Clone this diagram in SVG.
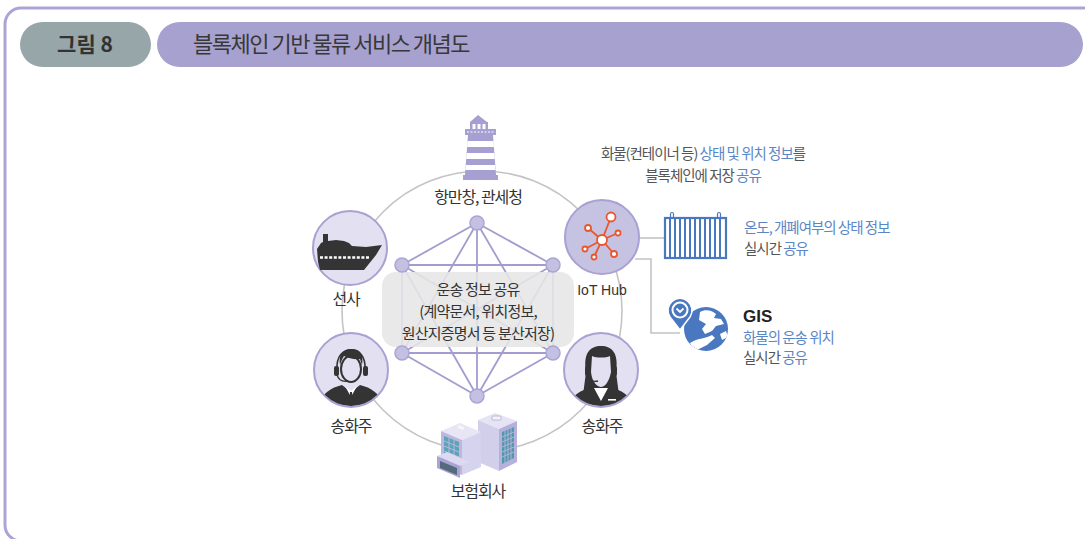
<svg xmlns="http://www.w3.org/2000/svg" width="1085" height="539" viewBox="0 0 1085 539">
  <style>
    .kr { font-family: "Noto Sans CJK KR", "Noto Sans", sans-serif; }
    .dark { fill: #333333; }
    .blue { fill: #5b86c6; }
    .lbl { font-size: 16px; letter-spacing: -1.1px; text-anchor: middle; fill: #333333; }
    .box { font-size: 15px; letter-spacing: -0.8px; text-anchor: middle; fill: #333333; }
    .side { font-size: 14.5px; letter-spacing: -1px; }
    .node { fill: #e3e0f1; stroke: #a8a2d3; stroke-width: 2; }
    .net { stroke: #a29ccf; stroke-width: 1.8; fill: none; }
    .dot { fill: #c4c0e1; stroke: #aaa4d5; stroke-width: 1.5; }
    .link { stroke: #c4c4c4; stroke-width: 1.6; fill: none; }
    .icon { fill: #343434; }
  </style>
  <defs>
    <clipPath id="clipL"><circle cx="351" cy="370" r="36"/></clipPath>
    <clipPath id="clipR"><circle cx="601" cy="370" r="36"/></clipPath>
    <clipPath id="clipG"><circle cx="706" cy="329" r="22"/></clipPath>
  </defs>

  <!-- frame -->
  <rect x="5" y="8" width="1100" height="533" rx="16" fill="#ffffff" stroke="#aba5d5" stroke-width="3"/>

  <!-- header -->
  <g id="header">
    <rect x="20" y="22" width="131" height="45" rx="22.5" fill="#96a6a9"/>
    <text x="85" y="52" class="kr" font-size="21" font-weight="700" fill="#333333" text-anchor="middle">그림 8</text>
    <rect x="157" y="22" width="926" height="45" rx="22.5" fill="#a7a1d0"/>
    <text x="193" y="52" class="kr" font-size="22" letter-spacing="-1.5" fill="#383838">블록체인 기반 물류 서비스 개념도</text>
  </g>

  <!-- connectors -->
  <g id="connectors">
    <circle cx="482" cy="311" r="140" class="link"/>
    <path d="M638,238 H664" class="link"/>
    <path d="M635,259 H651 V333 H680" class="link"/>
  </g>

  <!-- shared ledger network -->
  <g id="ledger">
    <g class="net">
      <line x1="477" y1="223" x2="402" y2="265"/>
      <line x1="477" y1="223" x2="553" y2="265"/>
      <line x1="477" y1="223" x2="402" y2="353"/>
      <line x1="477" y1="223" x2="553" y2="353"/>
      <line x1="477" y1="223" x2="477" y2="396"/>
      <line x1="402" y1="265" x2="553" y2="265"/>
      <line x1="402" y1="265" x2="402" y2="353"/>
      <line x1="402" y1="265" x2="553" y2="353"/>
      <line x1="402" y1="265" x2="477" y2="396"/>
      <line x1="553" y1="265" x2="402" y2="353"/>
      <line x1="553" y1="265" x2="553" y2="353"/>
      <line x1="553" y1="265" x2="477" y2="396"/>
      <line x1="402" y1="353" x2="553" y2="353"/>
      <line x1="402" y1="353" x2="477" y2="396"/>
      <line x1="553" y1="353" x2="477" y2="396"/>
    </g>
    <rect x="382" y="272" width="192" height="75" rx="14" fill="#e6e6e6" fill-opacity="0.88"/>
    <circle cx="477" cy="223" r="7" class="dot"/>
    <circle cx="402" cy="265" r="7" class="dot"/>
    <circle cx="553" cy="265" r="7" class="dot"/>
    <circle cx="402" cy="353" r="7" class="dot"/>
    <circle cx="553" cy="353" r="7" class="dot"/>
    <circle cx="477" cy="396" r="7" class="dot"/>
    <text class="kr box" x="478" y="295">운송 정보 공유</text>
    <text class="kr box" x="478" y="317">(계약문서, 위치정보,</text>
    <text class="kr box" x="478" y="339">원산지증명서 등 분산저장)</text>
  </g>

  <!-- port / customs -->
  <g id="port">
    <g fill="#a69fd1">
      <polygon points="470,122 478,115 487,122"/>
      <rect x="470" y="122" width="18" height="8"/>
      <rect x="465" y="129" width="31" height="6"/>
      <polygon points="468,135 493,135 496,175 465,175"/>
      <rect x="463" y="175" width="35" height="5"/>
    </g>
    <g fill="#ffffff">
      <rect x="472.5" y="124" width="3" height="5"/>
      <rect x="477.5" y="124" width="3" height="5"/>
      <rect x="482.5" y="124" width="3" height="5"/>
      <path d="M467,132 H494" stroke="#ffffff" stroke-width="1" stroke-dasharray="2,1.5"/>
      <polygon points="467.5,141 493.5,141 494,147 467,147"/>
      <polygon points="466.7,153 494.3,153 494.8,159 466.2,159"/>
      <polygon points="465.9,165 495.1,165 495.5,170 465.5,170"/>
    </g>
    <text class="kr lbl" x="478" y="203">항만창, 관세청</text>
  </g>

  <!-- shipping line -->
  <g id="ship">
    <circle cx="350" cy="248" r="37" class="node"/>
    <path class="icon" d="M317,249 L321,243 L323,242 L323,234 L328,234 L328,241 L336,240 L344,241 L349,243 L352,246 L366,247 L382,245 L376,255 L364,270 L320,270 L318,262 Z"/>
    <path d="M320,257.5 H370" stroke="#ffffff" stroke-width="2.4" stroke-dasharray="3,1.6"/>
    <text class="kr lbl" x="346" y="305">선사</text>
  </g>

  <!-- IoT hub -->
  <g id="iot">
    <circle cx="602" cy="237" r="37" fill="#c6c2e2" stroke="#a8a2d3" stroke-width="2"/>
    <g stroke="#e8572f" stroke-width="1.8" fill="#ffffff">
      <line x1="602" y1="240" x2="611" y2="217"/>
      <line x1="602" y1="240" x2="588" y2="228"/>
      <line x1="602" y1="240" x2="618" y2="233"/>
      <line x1="602" y1="240" x2="585" y2="249"/>
      <line x1="602" y1="240" x2="594" y2="257"/>
      <line x1="602" y1="240" x2="614" y2="254"/>
      <circle cx="611" cy="217" r="4.5"/>
      <circle cx="588" cy="228" r="3"/>
      <circle cx="618" cy="233" r="2.5"/>
      <circle cx="585" cy="249" r="2.5"/>
      <circle cx="594" cy="257" r="2.5"/>
      <circle cx="614" cy="254" r="3"/>
      <circle cx="602" cy="240" r="5"/>
    </g>
    <text x="602" y="295" font-family="Liberation Sans, Arial, sans-serif" font-size="14" fill="#333333" text-anchor="middle">IoT Hub</text>
  </g>

  <!-- shipper, male -->
  <g id="shipper-left">
    <circle cx="351" cy="370" r="37" class="node"/>
    <g clip-path="url(#clipL)">
      <path class="icon" d="M318,410 C320,394 330,388 342,385 L351,392 L360,385 C372,388 382,394 384,410 Z"/>
      <polygon points="345,386 351,397 357,386 351,391" fill="#ffffff"/>
      <polygon points="350,392 352,392 353,404 351,407 349,404" fill="#343434"/>
    </g>
    <ellipse cx="351" cy="369" rx="10" ry="13" fill="#e3e0f1" stroke="#343434" stroke-width="2"/>
    <path class="icon" d="M340,365 C338,353 345,348 352,349 C360,349 364,354 362,365 L360,359 C355,360 348,358 344,356 C342,359 341,362 340,365 Z"/>
    <path d="M337,370 C336,356 343,350 351,350 C359,350 366,356 365,370" fill="none" stroke="#343434" stroke-width="1.6"/>
    <rect x="334" y="366" width="5" height="10" rx="2" fill="#343434"/>
    <rect x="363" y="366" width="5" height="10" rx="2" fill="#343434"/>
    <path d="M337,375 C339,381 343,382 348,381" fill="none" stroke="#343434" stroke-width="1.3"/>
    <text class="kr lbl" x="351" y="432">송화주</text>
  </g>

  <!-- shipper, female -->
  <g id="shipper-right">
    <circle cx="601" cy="370" r="37" class="node"/>
    <g clip-path="url(#clipR)">
      <path class="icon" d="M586,372 C583,353 590,346 601,346 C612,346 619,353 616,372 L619,395 L583,395 Z"/>
      <path class="icon" d="M568,410 C570,396 580,390 591,388 L601,398 L611,388 C622,390 632,396 634,410 Z"/>
      <polygon points="594,388 601,401 608,388" fill="#ffffff"/>
      <rect x="608" y="399" width="8" height="1.6" fill="#ffffff"/>
    </g>
    <path d="M592,356 C596,358 606,358 610,356 L611,372 C609,383 604,387 601,387 C598,387 592,383 591,372 Z" fill="#e3e0f1"/>
    <path d="M587,370 C586,356 593,350 601,350 C609,350 616,356 615,370" fill="none" stroke="#343434" stroke-width="1.6"/>
    <rect x="585" y="366" width="5" height="10" rx="2" fill="#343434"/>
    <rect x="612" y="366" width="5" height="10" rx="2" fill="#343434"/>
    <path d="M588,376 C590,381 594,382 598,381" fill="none" stroke="#343434" stroke-width="1.3"/>
    <text class="kr lbl" x="602" y="432">송화주</text>
  </g>

  <!-- insurer -->
  <g id="insurer">
    <!-- tall tower -->
    <polygon points="478,420 495,413 517,421 499,429" fill="#e6e4f4"/>
    <polygon points="478,420 499,429 499,471 478,462" fill="#d2cfeb"/>
    <polygon points="499,429 517,421 517,462 499,471" fill="#b6b1dc"/>
    <polygon points="502,432 514,427 514,458 502,464" fill="#4f9aaa"/>
    <g stroke="#b6b1dc" stroke-width="1">
      <line x1="505" y1="430" x2="505" y2="463"/>
      <line x1="508" y1="429" x2="508" y2="461"/>
      <line x1="511" y1="428" x2="511" y2="460"/>
      <line x1="502" y1="437" x2="514" y2="432"/>
      <line x1="502" y1="442" x2="514" y2="437"/>
      <line x1="502" y1="447" x2="514" y2="442"/>
      <line x1="502" y1="452" x2="514" y2="447"/>
      <line x1="502" y1="457" x2="514" y2="452"/>
    </g>
    <rect x="492" y="416" width="9" height="4" rx="1" fill="#f4f4f4" stroke="#9a95c5" stroke-width="0.6"/>
    <!-- low tower -->
    <polygon points="441,431 460,423 481,432 462,440" fill="#e8e6f5"/>
    <polygon points="441,431 462,440 462,475 441,466" fill="#bcb7e0"/>
    <polygon points="462,440 481,432 481,467 462,475" fill="#d6d3ee"/>
    <polygon points="444,436 459,442 459,462 444,456" fill="#5aa4b6"/>
    <g stroke="#bcb7e0" stroke-width="1">
      <line x1="449" y1="437" x2="449" y2="459"/>
      <line x1="454" y1="439" x2="454" y2="461"/>
      <line x1="444" y1="441" x2="459" y2="447"/>
      <line x1="444" y1="446" x2="459" y2="452"/>
      <line x1="444" y1="451" x2="459" y2="457"/>
    </g>
    <rect x="458" y="426" width="6" height="3" fill="#f6f6f6" transform="rotate(22 461 427)"/>
    <!-- lobby -->
    <polygon points="437,456 447,452 470,462 460,466" fill="#dcd9f0"/>
    <polygon points="437,456 460,466 460,478 437,468" fill="#a9a4d4"/>
    <polygon points="440,461 457,468 457,475 440,468" fill="#556a7a"/>
    <text class="kr lbl" x="478" y="497" font-size="19">보험회사</text>
  </g>

  <!-- ledger storage note -->
  <g id="note">
    <text class="kr side" x="703" y="159" text-anchor="middle"><tspan fill="#555555">화물(컨테이너 등) </tspan><tspan class="blue">상태 및 위치 정보</tspan><tspan fill="#555555">를</tspan></text>
    <text class="kr side" x="703" y="181" text-anchor="middle"><tspan fill="#555555">블록체인에 저장 </tspan><tspan class="blue">공유</tspan></text>
  </g>

  <!-- container -->
  <g id="container">
    <rect x="665" y="218" width="61" height="40" fill="#ffffff" stroke="#4a78c0" stroke-width="2.2"/>
    <g stroke="#4a78c0" stroke-width="2">
      <line x1="670" y1="219" x2="670" y2="257"/>
      <line x1="675" y1="219" x2="675" y2="257"/>
      <line x1="680" y1="219" x2="680" y2="257"/>
      <line x1="685" y1="219" x2="685" y2="257"/>
      <line x1="690" y1="219" x2="690" y2="257"/>
      <line x1="695" y1="219" x2="695" y2="257"/>
      <line x1="700" y1="219" x2="700" y2="257"/>
      <line x1="705" y1="219" x2="705" y2="257"/>
      <line x1="710" y1="219" x2="710" y2="257"/>
      <line x1="715" y1="219" x2="715" y2="257"/>
      <line x1="720" y1="219" x2="720" y2="257"/>
    </g>
    <path d="M670.5,217 V214 A1.5,1.5 0 0 1 673.5,214 V217 M717.5,217 V214 A1.5,1.5 0 0 1 720.5,214 V217" fill="none" stroke="#4a78c0" stroke-width="1.2"/>
    <text class="kr side" x="744" y="233" fill="#5b86c6">온도, 개폐여부의 상태 정보</text>
    <text class="kr side" x="744" y="254"><tspan fill="#555555">실시간 </tspan><tspan class="blue">공유</tspan></text>
  </g>

  <!-- GIS -->
  <g id="gis">
    <circle cx="706" cy="329" r="22" fill="#4a78c0"/>
    <g clip-path="url(#clipG)" fill="#ffffff">
      <path d="M700,312 C705,309 712,310 716,314 L714,318 L721,319 L724,324 L716,326 L712,331 L705,334 L702,329 L706,324 L699,320 Z"/>
      <path d="M690,343 C697,338 705,339 712,335 L715,338 L707,345 L699,349 L693,349 Z"/>
      <path d="M720,334 L726,331 L728,337 L722,340 Z"/>
    </g>
    <path d="M680,330 L670,317 A12,12 0 1 1 690,317 Z" fill="#4a78c0" stroke="#ffffff" stroke-width="1.5"/>
    <circle cx="680" cy="310" r="7.5" fill="#4a78c0" stroke="#ffffff" stroke-width="2"/>
    <path d="M676.5,308.5 L680,312 L683.5,308.5" fill="none" stroke="#ffffff" stroke-width="1.8"/>
    <text x="743" y="322" font-family="Liberation Sans, Arial, sans-serif" font-size="17" font-weight="700" fill="#222222">GIS</text>
    <text class="kr side" x="743" y="343" fill="#5b86c6">화물의 운송 위치</text>
    <text class="kr side" x="743" y="363"><tspan fill="#555555">실시간 </tspan><tspan class="blue">공유</tspan></text>
  </g>
</svg>
